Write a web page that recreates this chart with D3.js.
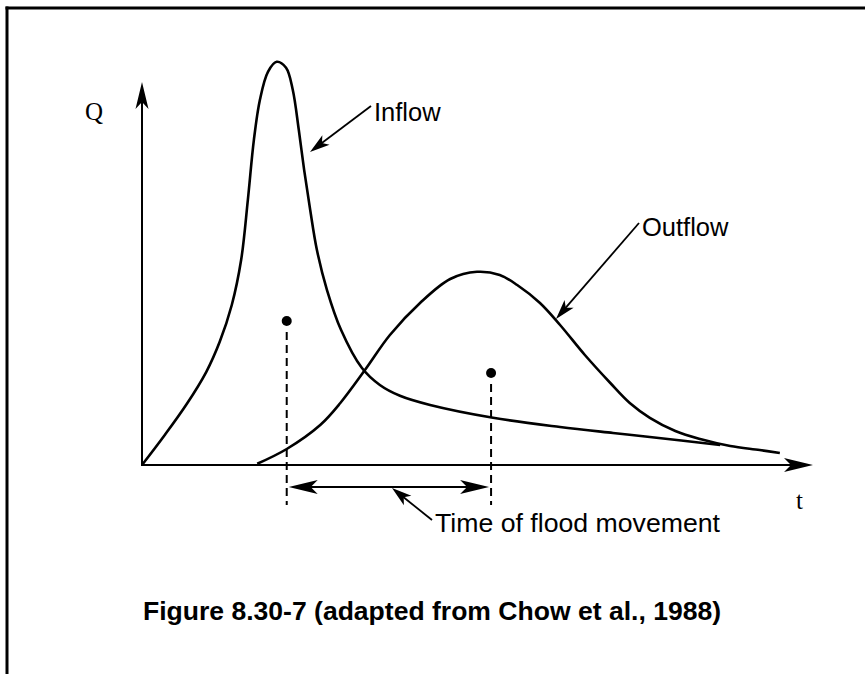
<!DOCTYPE html>
<html>
<head>
<meta charset="utf-8">
<script src="https://cdn.jsdelivr.net/npm/d3@7"></script>
<style>
  html, body { margin: 0; padding: 0; background: #fff; }
  svg { display: block; }
</style>
</head>
<body>
<script>
// ---- data (t in arbitrary time units, Q in arbitrary discharge units) ----
const inflowT = [0, 3.4, 6.7, 9.6, 11.6, 13.4, 14.8, 15.8, 16.7, 17.6, 18.8, 20.1, 21.5, 22.5, 23.4, 24.2, 25.1, 26.1, 27.6, 29.7, 32.8, 35.5, 38.5, 43.0, 52.4, 62.4, 70.3, 75.8, 86.3];
const inflowQ = [0, 7.5, 15.3, 23.3, 30.8, 40, 51.3, 66.3, 81.3, 91.3, 98.3, 100.8, 99.3, 93.8, 83.8, 73.8, 63.8, 53.8, 43.8, 33.8, 24.3, 20, 17.3, 15, 11.8, 9.5, 8, 7, 5];
const outflowT = [17.2, 21.6, 26.6, 29.6, 33.3, 37.0, 41.5, 46.0, 50.0, 53.4, 56.0, 59.4, 62.4, 66.1, 69.9, 72.8, 75.8, 79.6, 83.3, 87.8, 92.2, 95.2];
const outflowQ = [0.3, 4, 10, 15.5, 23.8, 32.5, 40.5, 46.5, 48.3, 47.5, 45, 40.5, 35, 27.5, 20.5, 15.5, 11.8, 8.5, 6.5, 4.75, 3.75, 3];
const centroidT = [21.6, 52.1];
const centroidQ = [36, 23];
const seriesNames = ["Inflow", "Outflow"];
const axisLabels = ["Q", "t"];
const annotation = "Time of flood movement";
const caption = "Figure 8.30-7 (adapted from Chow et al., 1988)";

const W = 865, H = 674;
const svg = d3.select("body").append("svg").attr("width", W).attr("height", H);

const x = d3.scaleLinear().domain([0, 100]).range([142, 812]);
const y = d3.scaleLinear().domain([0, 100]).range([465, 65]);

// frame (top + left rules)
svg.append("line").attr("x1", 5.5).attr("x2", W).attr("y1", 8).attr("y2", 8)
  .attr("stroke", "#000").attr("stroke-width", 3);
svg.append("line").attr("x1", 7).attr("x2", 7).attr("y1", 6.5).attr("y2", H)
  .attr("stroke", "#000").attr("stroke-width", 3);

function arrowHead(tx, ty, angle, len, hw, notch) {
  const c = Math.cos(angle), s = Math.sin(angle);
  const bx = tx - c * len, by = ty - s * len;
  const nx = tx - c * (len - notch), ny = ty - s * (len - notch);
  const p = [
    [tx, ty],
    [bx - s * hw, by + c * hw],
    [nx, ny],
    [bx + s * hw, by - c * hw]
  ];
  svg.append("path").attr("d", "M" + p.map(d => d.join(",")).join("L") + "Z").attr("fill", "#000");
}

// axes
const x0 = x(0), y0 = y(0);
const yTip = 82, xTip = 813;
svg.append("line").attr("x1", x0).attr("x2", x0).attr("y1", y0 + 1).attr("y2", yTip + 10)
  .attr("stroke", "#000").attr("stroke-width", 2);
arrowHead(x0, yTip, -Math.PI / 2, 27, 6.5, 7);
svg.append("line").attr("x1", x0 - 1).attr("x2", xTip - 10).attr("y1", y0).attr("y2", y0)
  .attr("stroke", "#000").attr("stroke-width", 2);
arrowHead(xTip, y0, 0, 29, 7, 7);

// axis labels
svg.append("text").attr("x", 85).attr("y", 120).text(axisLabels[0])
  .attr("font-family", "Liberation Serif, Times New Roman, serif").attr("font-size", 25);
svg.append("text").attr("x", 796).attr("y", 509).text(axisLabels[1])
  .attr("font-family", "Liberation Serif, Times New Roman, serif").attr("font-size", 25);

// curves
const line = d3.line().x(d => x(d[0])).y(d => y(d[1])).curve(d3.curveCatmullRom.alpha(0.5));
svg.append("path").datum(inflowT.map((t, i) => [t, inflowQ[i]]))
  .attr("d", line).attr("fill", "none").attr("stroke", "#000").attr("stroke-width", 2.6)
  .attr("stroke-linejoin", "round");
svg.append("path").datum(outflowT.map((t, i) => [t, outflowQ[i]]))
  .attr("d", line).attr("fill", "none").attr("stroke", "#000").attr("stroke-width", 2.6)
  .attr("stroke-linejoin", "round");

// centroids + dashed drop lines
centroidT.forEach((t, i) => {
  svg.append("circle").attr("cx", x(t)).attr("cy", y(centroidQ[i])).attr("r", 5).attr("fill", "#000");
  svg.append("line").attr("x1", x(t)).attr("x2", x(t))
    .attr("y1", y(centroidQ[i]) + 11).attr("y2", 505)
    .attr("stroke", "#000").attr("stroke-width", 2).attr("stroke-dasharray", "8,5");
});

// time-of-flood-movement dimension arrow
const dimY = 487;
const xa = x(centroidT[0]) + 1, xb = x(centroidT[1]) - 1;
svg.append("line").attr("x1", xa + 10).attr("x2", xb - 10).attr("y1", dimY).attr("y2", dimY)
  .attr("stroke", "#000").attr("stroke-width", 2);
arrowHead(xa + 1, dimY, Math.PI, 29, 7, 7);
arrowHead(xb - 1, dimY, 0, 29, 7, 7);

// leader arrows
function leader(x1, y1, x2, y2) {
  const ang = Math.atan2(y2 - y1, x2 - x1);
  const len = 20;
  svg.append("line").attr("x1", x1).attr("y1", y1)
    .attr("x2", x2 - Math.cos(ang) * (len - 6)).attr("y2", y2 - Math.sin(ang) * (len - 6))
    .attr("stroke", "#000").attr("stroke-width", 1.8);
  arrowHead(x2, y2, ang, len, 6, 5);
}
leader(371, 106, 310, 152);
leader(639, 223, 556, 319);
leader(432, 520, 392, 488);

const sans = "Liberation Sans, Arial, Helvetica, sans-serif";
svg.append("text").attr("x", 374).attr("y", 121).text(seriesNames[0])
  .attr("font-family", sans).attr("font-size", 25.5);
svg.append("text").attr("x", 642).attr("y", 236).text(seriesNames[1])
  .attr("font-family", sans).attr("font-size", 25.5);
svg.append("text").attr("x", 435).attr("y", 532).text(annotation)
  .attr("font-family", sans).attr("font-size", 25).attr("textLength", 285).attr("lengthAdjust", "spacingAndGlyphs");

svg.append("text").attr("x", 143).attr("y", 620).text(caption)
  .attr("font-family", sans).attr("font-size", 26).attr("font-weight", "bold")
  .attr("textLength", 578).attr("lengthAdjust", "spacingAndGlyphs");
</script>
</body>
</html>
